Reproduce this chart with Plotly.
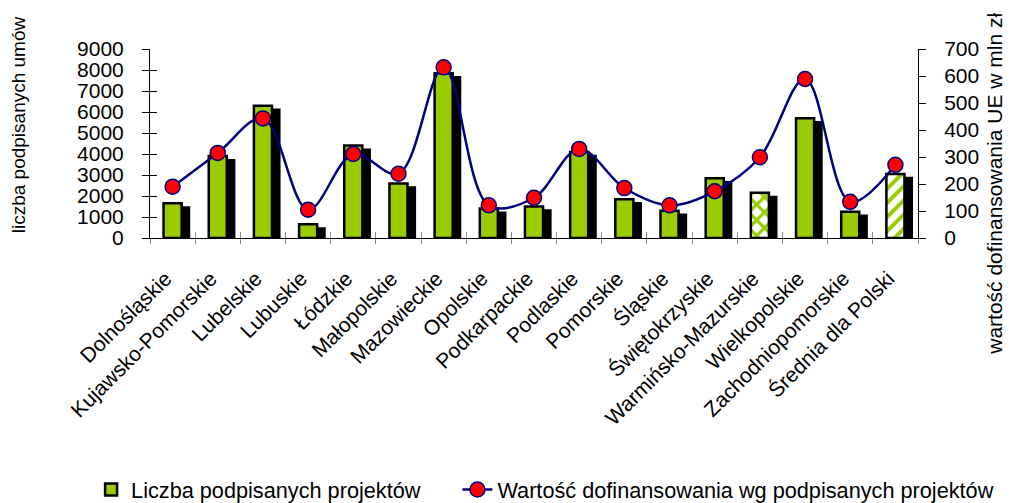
import numpy as np
import plotly.graph_objects as go

categories = ["Dolnośląskie", "Kujawsko-Pomorskie", "Lubelskie", "Lubuskie", "Łódzkie",
              "Małopolskie", "Mazowieckie", "Opolskie", "Podkarpackie", "Podlaskie",
              "Pomorskie", "Śląskie", "Świętokrzyskie", "Warmińsko-Mazurskie",
              "Wielkopolskie", "Zachodniopomorskie", "Średnia dla Polski"]
contracts = [1650, 3900, 6300, 650, 4400, 2600, 7850, 1400, 1500, 4100,
             1850, 1300, 2850, 2150, 5700, 1250, 3050]
eu_value = [190, 315, 443, 105, 311, 238, 632, 121, 149, 330,
            185, 121, 173, 299, 589, 134, 271]
# bars drawn with a fill pattern (index -> pattern shape)
patterned = {13: "x", 16: "/"}

left_ticks = list(range(0, 9001, 1000))
right_ticks = list(range(0, 701, 100))

FONT = "Liberation Sans, Arial, sans-serif"
GREEN = "#99CC00"
NAVY = "#000080"

n = len(categories)
bar_w = 0.40
shadow_shift = 0.168

plain_idx = [i for i in range(n) if i not in patterned]

fig = go.Figure()

# shadow bars
fig.add_trace(go.Bar(
    x=categories, y=[v - 60 for v in contracts], base=-120,
    width=bar_w, offset=-bar_w / 2 + shadow_shift,
    marker=dict(color="black", line=dict(color="black", width=2)),
    showlegend=False, hoverinfo="skip"))

# main (solid) bars
fig.add_trace(go.Bar(
    x=[categories[i] for i in plain_idx], y=[contracts[i] for i in plain_idx],
    width=bar_w, offset=-bar_w / 2,
    name="Liczba podpisanych projektów", legendgroup="bars",
    marker=dict(color=GREEN, line=dict(color="black", width=2.5)),
))

# patterned bars
for i, shp in patterned.items():
    fig.add_trace(go.Bar(
        x=[categories[i]], y=[contracts[i]], width=bar_w, offset=-bar_w / 2,
        name="Liczba podpisanych projektów", legendgroup="bars", showlegend=False,
        marker=dict(color="white", line=dict(color="black", width=2.5),
                    pattern=dict(shape=shp, fgcolor=GREEN, bgcolor="white",
                                 fillmode="replace", fgopacity=1,
                                 size=11 if shp == "x" else 10,
                                 solidity=0.5 if shp == "x" else 0.4)),
    ))

fig.add_trace(go.Scatter(
    x=categories, y=eu_value, yaxis="y2", mode="lines+markers",
    name="Wartość dofinansowania wg podpisanych projektów", legend="legend2",
    line=dict(color=NAVY, width=2.5, shape="spline", smoothing=1.0),
    marker=dict(color="red", size=15, line=dict(color=NAVY, width=1.5)),
))

# hidden helper trace for crossing ticks
fig.add_trace(go.Scatter(x=[0], y=[0], xaxis="x2", yaxis="y3", mode="markers",
                         marker=dict(opacity=0), showlegend=False, hoverinfo="skip"))

fig.update_layout(
    width=1012, height=503,
    margin=dict(l=150, r=94, t=49, b=265, autoexpand=False),
    paper_bgcolor="white", plot_bgcolor="white",
    barmode="overlay",
    font=dict(family=FONT, size=21, color="black"),
    xaxis=dict(type="category", categoryorder="array", categoryarray=categories,
               range=[-0.5, n - 0.5],
               showline=True, linecolor="black", linewidth=1,
               ticks="outside", tickson="boundaries", ticklen=5, tickcolor="#888888",
               tickangle=-45, tickfont=dict(size=21), showgrid=False, zeroline=False,
               ticklabelstandoff=19, ticklabelshift=-7, automargin=False),
    xaxis2=dict(overlaying="x", range=[-0.5, n - 0.5], tickvals=list(np.arange(n + 1) - 0.5),
                ticks="inside", ticklen=6, tickcolor="#888888", showticklabels=False,
                showgrid=False, zeroline=False, showline=False),
    yaxis=dict(range=[0, 9000], tickvals=left_ticks, showline=True, linecolor="black",
               linewidth=1, ticks="outside", ticklen=7, tickcolor="black",
               tickfont=dict(size=21), showgrid=False, zeroline=False,
               ticklabelstandoff=14, automargin=False),
    yaxis3=dict(overlaying="y", range=[0, 9000], tickvals=left_ticks, ticks="inside",
                ticklen=7, tickcolor="black", showticklabels=False, showgrid=False,
                zeroline=False, showline=False, anchor="x"),
    yaxis2=dict(overlaying="y", side="right", range=[0, 700], tickvals=right_ticks,
                showline=True, linecolor="black", linewidth=1, ticks="outside",
                ticklen=7, tickcolor="black", tickfont=dict(size=21), showgrid=False,
                zeroline=False, ticklabelstandoff=14, automargin=False),
    legend=dict(orientation="h", xref="container", yref="container",
                x=0.090, y=0.026, xanchor="left", yanchor="middle",
                font=dict(size=21.7), itemwidth=30),
    legend2=dict(orientation="h", xref="container", yref="container",
                 x=0.452, y=0.026, xanchor="left", yanchor="middle",
                 font=dict(size=21.7), itemwidth=30),
    annotations=[
        dict(text="liczba podpisanych umów", xref="paper", yref="paper",
             x=-0.171, y=0.60, textangle=-90, showarrow=False,
             xanchor="center", yanchor="middle", font=dict(size=19)),
        dict(text="wartość dofinansowania UE w mln zł", xref="paper", yref="paper",
             x=1.10, y=0.286, textangle=-90, showarrow=False,
             xanchor="center", yanchor="middle", font=dict(size=21)),
    ],
)

fig.write_html("out.html", post_script="document.body.style.margin='0';",
               config={"displayModeBar": False})
